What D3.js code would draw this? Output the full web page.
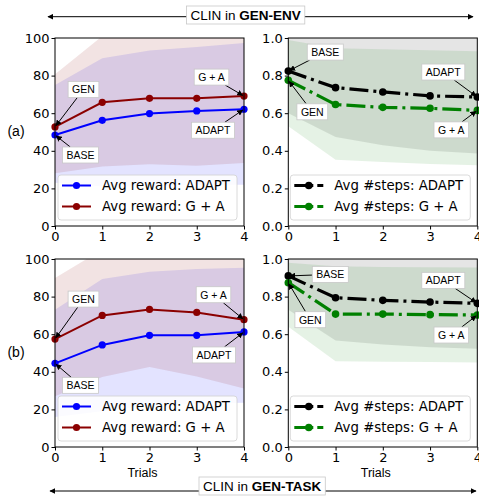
<!DOCTYPE html>
<html>
<head>
<meta charset="utf-8">
<script src="https://cdn.jsdelivr.net/npm/d3@7"></script>
<style>
  body { margin: 0; background: #fff; }
  svg { display: block; }
</style>
</head>
<body>
<div id="chart"></div>
<script>
// x values shared by every panel
var trials = [0, 1, 2, 3, 4];
var rewardTicks = [0, 20, 40, 60, 80, 100];
var stepTicks = [0, 0.2, 0.4, 0.6, 0.8, 1.0];

// GEN-ENV, reward
var envRewardAdapt   = [48.4, 56.2, 59.8, 61.2, 62.1];
var envRewardGA      = [52.7, 65.8, 67.9, 67.9, 69.1];
var envRewardAdaptLo = [23, 21, 21, 22, 22];
var envRewardAdaptHi = [75, 89.2, 93.4, 95.2, 97.3];
var envRewardGALo    = [28, 31.7, 32.8, 32, 33.5];
var envRewardGAHi    = [80.7, 101, 103, 104, 105];

// GEN-ENV, #steps
var envStepsAdapt   = [0.824, 0.736, 0.713, 0.692, 0.686];
var envStepsGA      = [0.775, 0.646, 0.631, 0.626, 0.615];
var envStepsAdaptLo = [0.60, 0.473, 0.43, 0.40, 0.385];
var envStepsAdaptHi = [1.05, 1.05, 1.05, 1.05, 1.05];
var envStepsGALo    = [0.53, 0.353, 0.34, 0.33, 0.323];
var envStepsGAHi    = [0.99, 0.945, 0.94, 0.935, 0.93];

// GEN-TASK, reward
var taskRewardAdapt   = [44.5, 54.3, 59.4, 59.4, 61.2];
var taskRewardGA      = [57.4, 70.0, 73.2, 71.6, 67.7];
var taskRewardAdaptLo = [16, 19, 22, 23, 23.6];
var taskRewardAdaptHi = [73, 89.4, 93.2, 94.7, 95.4];
var taskRewardGALo    = [27, 37.2, 42.5, 37.5, 31.1];
var taskRewardGAHi    = [89.9, 105, 107, 108, 108];

// GEN-TASK, #steps
var taskStepsAdapt   = [0.910, 0.794, 0.780, 0.771, 0.764];
var taskStepsGA      = [0.874, 0.707, 0.707, 0.704, 0.702];
var taskStepsAdaptLo = [0.73, 0.567, 0.545, 0.53, 0.523];
var taskStepsAdaptHi = [1.05, 1.05, 1.05, 1.05, 1.05];
var taskStepsGALo    = [0.64, 0.456, 0.454, 0.452, 0.450];
var taskStepsGAHi    = [0.98, 0.962, 0.958, 0.956, 0.955];

var width = 479, height = 497;
var svg = d3.select("#chart").append("svg")
    .attr("width", width)
    .attr("height", height);

var defs = svg.append("defs");
defs.append("marker")
    .attr("id", "arrow")
    .attr("viewBox", "0 0 10 10")
    .attr("refX", 9).attr("refY", 5)
    .attr("markerWidth", 6).attr("markerHeight", 6)
    .attr("markerUnits", "userSpaceOnUse")
    .attr("orient", "auto-start-reverse")
    .append("path")
    .attr("d", "M0,0 L10,5 L0,10 z")
    .attr("fill", "#000");

var tickFont = "DejaVu Sans, sans-serif";
var textFont = "Liberation Sans, Arial, sans-serif";

// panel boxes in pixels
var leftX = [55, 244], rightX = [288.3, 477.3];
var topY = [38, 226], botY = [259, 447];

var panels = [
  { id: "a1", xr: leftX, yr: topY, kind: "reward",
    adapt: envRewardAdapt, ga: envRewardGA,
    bandA: [envRewardAdaptLo, envRewardAdaptHi], bandG: [envRewardGALo, envRewardGAHi],
    notes: [
      { text: "GEN", s: "ga", i: 0, dx: 28.5, dy: -37.5 },
      { text: "BASE", s: "adapt", i: 0, dx: 25.5, dy: 20 },
      { text: "G + A", s: "ga", i: 4, dx: -32.5, dy: -19 },
      { text: "ADAPT", s: "adapt", i: 4, dx: -31, dy: 21 }
    ] },
  { id: "a2", xr: rightX, yr: topY, kind: "steps",
    adapt: envStepsAdapt, ga: envStepsGA,
    bandA: [envStepsAdaptLo, envStepsAdaptHi], bandG: [envStepsGALo, envStepsGAHi],
    notes: [
      { text: "BASE", s: "adapt", i: 0, dx: 37, dy: -19 },
      { text: "GEN", s: "ga", i: 0, dx: 24, dy: 31.5 },
      { text: "ADAPT", s: "adapt", i: 4, dx: -34, dy: -25 },
      { text: "G + A", s: "ga", i: 4, dx: -26, dy: 19.5 }
    ] },
  { id: "b1", xr: leftX, yr: botY, kind: "reward", xlabel: true,
    adapt: taskRewardAdapt, ga: taskRewardGA,
    bandA: [taskRewardAdaptLo, taskRewardAdaptHi], bandG: [taskRewardGALo, taskRewardGAHi],
    notes: [
      { text: "GEN", s: "ga", i: 0, dx: 28.5, dy: -40 },
      { text: "BASE", s: "adapt", i: 0, dx: 25.5, dy: 22 },
      { text: "G + A", s: "ga", i: 4, dx: -30.5, dy: -25 },
      { text: "ADAPT", s: "adapt", i: 4, dx: -30, dy: 23 }
    ] },
  { id: "b2", xr: rightX, yr: botY, kind: "steps", xlabel: true,
    adapt: taskStepsAdapt, ga: taskStepsGA,
    bandA: [taskStepsAdaptLo, taskStepsAdaptHi], bandG: [taskStepsGALo, taskStepsGAHi],
    notes: [
      { text: "BASE", s: "adapt", i: 0, dx: 42, dy: -1.5 },
      { text: "GEN", s: "ga", i: 0, dx: 22, dy: 37 },
      { text: "ADAPT", s: "adapt", i: 4, dx: -34, dy: -23 },
      { text: "G + A", s: "ga", i: 4, dx: -26, dy: 20 }
    ] }
];

panels.forEach(function(p) {
  var isReward = p.kind === "reward";
  var x = d3.scaleLinear().domain([0, 4]).range(p.xr);
  var y = d3.scaleLinear().domain(isReward ? [0, 100] : [0, 1]).range([p.yr[1], p.yr[0]]);

  var colA = isReward ? "#0000ff" : "#000000";
  var colG = isReward ? "#8b0000" : "#008000";
  var labelA = isReward ? "Avg reward: ADAPT" : "Avg #steps: ADAPT";
  var labelG = isReward ? "Avg reward: G + A" : "Avg #steps: G + A";
  var dash = isReward ? null : "19,5,3,5";
  var lw = isReward ? 2 : 3.2;

  var g = svg.append("g");

  defs.append("clipPath").attr("id", "clip-" + p.id)
    .append("rect")
    .attr("x", p.xr[0]).attr("y", p.yr[0])
    .attr("width", p.xr[1] - p.xr[0]).attr("height", p.yr[1] - p.yr[0]);

  var plot = g.append("g").attr("clip-path", "url(#clip-" + p.id + ")");

  // shaded ranges
  var area = d3.area()
    .x(function(d, i) { return x(trials[i]); })
    .y0(function(d) { return y(d[0]); })
    .y1(function(d) { return y(d[1]); });

  plot.append("path")
    .datum(d3.zip(p.bandA[0], p.bandA[1]))
    .attr("d", area)
    .attr("fill", colA)
    .attr("fill-opacity", isReward ? 0.11 : 0.1);
  plot.append("path")
    .datum(d3.zip(p.bandG[0], p.bandG[1]))
    .attr("d", area)
    .attr("fill", colG)
    .attr("fill-opacity", isReward ? 0.11 : 0.1);

  var line = d3.line()
    .x(function(d, i) { return x(trials[i]); })
    .y(function(d) { return y(d); });

  var series = [
    { vals: p.adapt, col: colA },
    { vals: p.ga, col: colG }
  ];
  series.forEach(function(s) {
    g.append("path")
      .datum(s.vals)
      .attr("d", line)
      .attr("fill", "none")
      .attr("stroke", s.col)
      .attr("stroke-width", lw)
      .attr("stroke-dasharray", dash);
    g.selectAll(null)
      .data(s.vals)
      .enter()
      .append("circle")
      .attr("cx", function(d, i) { return x(trials[i]); })
      .attr("cy", function(d) { return y(d); })
      .attr("r", isReward ? 3.6 : 3.8)
      .attr("fill", s.col);
  });

  // annotations
  p.notes.forEach(function(n) {
    var px = x(trials[n.i]);
    var py = y(n.s === "ga" ? p.ga[n.i] : p.adapt[n.i]);
    var cx = px + n.dx, cy = py + n.dy;
    var ng = g.append("g");
    var rect = ng.append("rect");
    var t = ng.append("text")
      .attr("x", cx).attr("y", cy)
      .attr("text-anchor", "middle")
      .attr("dominant-baseline", "central")
      .style("font-family", textFont)
      .style("font-size", "10.5px")
      .text(n.text);
    var bw = t.node().getComputedTextLength() + 8, bh = 16;
    rect.attr("x", cx - bw / 2).attr("y", cy - bh / 2)
      .attr("width", bw).attr("height", bh)
      .attr("fill", "#fff")
      .attr("stroke", "#c8c8c8")
      .attr("stroke-width", 0.8);
    // start the arrow where the center->point line leaves the box
    var vx = px - cx, vy = py - cy;
    var k = Math.min(Math.abs((bw / 2) / (vx || 1e-6)), Math.abs((bh / 2) / (vy || 1e-6)));
    var sx = cx + vx * k, sy = cy + vy * k;
    var len = Math.sqrt(vx * vx + vy * vy);
    var ex = px - vx / len * 1.5, ey = py - vy / len * 1.5;
    ng.insert("line", "rect")
      .attr("x1", sx).attr("y1", sy)
      .attr("x2", ex).attr("y2", ey)
      .attr("stroke", "#000")
      .attr("stroke-width", 1)
      .attr("marker-end", "url(#arrow)");
  });

  // legend
  var lg = g.append("g");
  var lx = p.xr[0] + (isReward ? 3 : 2);
  var ly = p.yr[1] - 51;
  lg.append("rect")
    .attr("x", lx).attr("y", ly)
    .attr("width", isReward ? 179 : 180).attr("height", 45)
    .attr("rx", 3)
    .attr("fill", "#fff").attr("fill-opacity", 0.85)
    .attr("stroke", "#d0d0d0").attr("stroke-width", 0.8);
  [[colA, labelA], [colG, labelG]].forEach(function(e, k) {
    var ry = ly + 10.5 + k * 21;
    lg.append("line")
      .attr("x1", lx + 4).attr("x2", lx + 33)
      .attr("y1", ry).attr("y2", ry)
      .attr("stroke", e[0]).attr("stroke-width", lw)
      .attr("stroke-dasharray", isReward ? null : "12,4,3,4");
    lg.append("circle")
      .attr("cx", lx + 18.5).attr("cy", ry)
      .attr("r", isReward ? 3.6 : 3.8)
      .attr("fill", e[0]);
    lg.append("text")
      .attr("x", lx + 44).attr("y", ry)
      .attr("dominant-baseline", "central")
      .style("font-family", tickFont)
      .style("font-size", "13.3px")
      .text(e[1]);
  });

  // frame and axes
  g.append("rect")
    .attr("x", p.xr[0]).attr("y", p.yr[0])
    .attr("width", p.xr[1] - p.xr[0]).attr("height", p.yr[1] - p.yr[0])
    .attr("fill", "none").attr("stroke", "#000").attr("stroke-width", 1);

  var xAxis = d3.axisBottom(x).tickValues(trials).tickSize(3.5).tickPadding(2)
    .tickFormat(d3.format("d"));
  var yAxis = d3.axisLeft(y).tickValues(isReward ? rewardTicks : stepTicks)
    .tickSize(3.5).tickPadding(2)
    .tickFormat(isReward ? d3.format("d") : d3.format(".1f"));

  var gx = g.append("g").attr("transform", "translate(0," + p.yr[1] + ")").call(xAxis);
  var gy = g.append("g").attr("transform", "translate(" + p.xr[0] + ",0)").call(yAxis);
  [gx, gy].forEach(function(a) {
    a.select(".domain").remove();
    a.selectAll("text")
      .style("font-family", tickFont)
      .style("font-size", "13px")
      .attr("fill", "#000");
    a.selectAll("line").attr("stroke", "#000");
  });

  if (p.xlabel) {
    g.append("text")
      .attr("x", (p.xr[0] + p.xr[1]) / 2 - 7)
      .attr("y", p.yr[1] + 30)
      .attr("text-anchor", "middle")
      .style("font-family", textFont)
      .style("font-size", "12.5px")
      .text("Trials");
  }
});

// row labels
svg.append("text").attr("x", 16).attr("y", 131)
  .attr("text-anchor", "middle").attr("dominant-baseline", "central")
  .style("font-family", textFont).style("font-size", "14px").text("(a)");
svg.append("text").attr("x", 16).attr("y", 352)
  .attr("text-anchor", "middle").attr("dominant-baseline", "central")
  .style("font-family", textFont).style("font-size", "14px").text("(b)");

// header and footer banners
function banner(cy, x0, x1, bx, lineY, word) {
  var b = svg.append("g");
  b.append("line")
    .attr("x1", x0).attr("x2", x1)
    .attr("y1", lineY).attr("y2", lineY)
    .attr("stroke", "#000").attr("stroke-width", 1)
    .attr("marker-start", "url(#arrow)")
    .attr("marker-end", "url(#arrow)");
  var rect = b.append("rect");
  var t = b.append("text")
    .attr("x", bx).attr("y", cy)
    .attr("dominant-baseline", "central")
    .style("font-family", textFont)
    .style("font-size", "13.5px");
  t.append("tspan").text("CLIN in ");
  t.append("tspan").style("font-weight", "bold").text(word);
  var w = t.node().getComputedTextLength();
  rect.attr("x", bx - 4).attr("y", cy - 9)
    .attr("width", w + 8).attr("height", 18)
    .attr("fill", "#fff")
    .attr("stroke", "#c8c8c8").attr("stroke-width", 0.8);
}
banner(15, 48, 473, 190.5, 16.7, "GEN-ENV");
banner(486, 50, 476, 203, 491, "GEN-TASK");
</script>
</body>
</html>
